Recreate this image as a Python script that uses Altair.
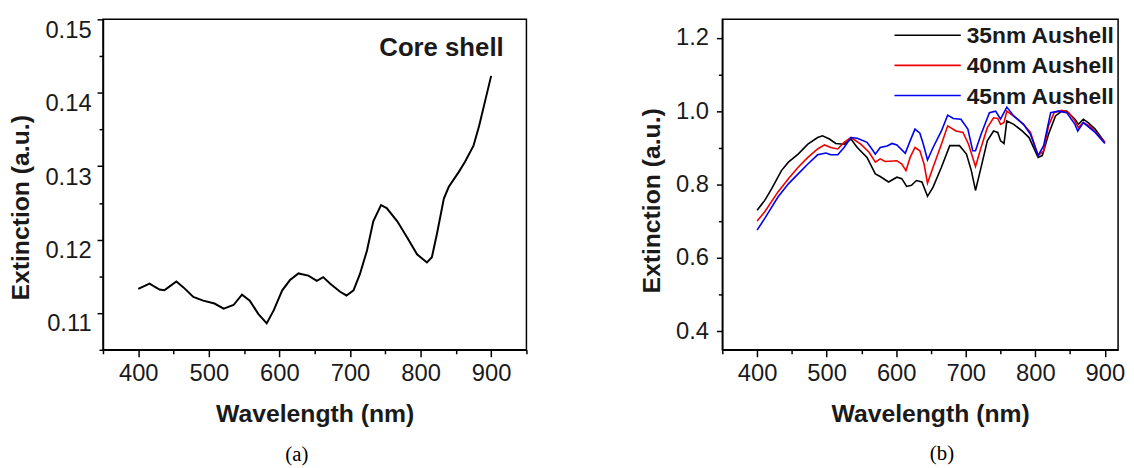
import altair as alt
import pandas as pd

# ---------------- Panel (a): core shell ----------------
core_nm = [400, 416, 430, 437, 444, 454, 464, 478, 492, 508,
           521, 535, 547, 558, 570, 582, 592, 604, 615, 627,
           641, 653, 662, 672, 686, 695, 705, 714, 724, 733,
           744, 752, 767, 781, 795, 809, 816, 823, 833, 840,
           854, 863, 875, 883, 892, 900]
core_ext = [0.1133, 0.1140, 0.1132, 0.1131, 0.1136, 0.1143, 0.1135, 0.1122, 0.1117, 0.1113,
            0.1106, 0.1111, 0.1125, 0.1117, 0.1099, 0.1086, 0.1104, 0.1131, 0.1145, 0.1154,
            0.1151, 0.1144, 0.1149, 0.1140, 0.1129, 0.1124, 0.1131, 0.1153, 0.1185, 0.1225,
            0.1247, 0.1243, 0.1225, 0.1203, 0.1180, 0.1169, 0.1176, 0.1207, 0.1256, 0.1272,
            0.1292, 0.1306, 0.1328, 0.1355, 0.1391, 0.1423]

# ---------------- Panel (b): Au shells ----------------
s35_nm = [400, 411, 421, 435, 445, 459, 473, 487, 494, 504,
          513, 525, 535, 544, 558, 570, 577, 589, 601, 608,
          615, 622, 629, 637, 645, 653, 665, 677, 691, 701,
          708, 714, 722, 731, 740, 746, 750, 755, 759, 769,
          781, 791, 804, 810, 819, 829, 838, 845, 857, 862,
          869, 876, 886, 900]
s35_ext = [0.730, 0.757, 0.789, 0.838, 0.861, 0.883, 0.910, 0.928, 0.933, 0.924,
           0.912, 0.910, 0.924, 0.901, 0.874, 0.829, 0.822, 0.807, 0.820, 0.816,
           0.795, 0.798, 0.811, 0.807, 0.768, 0.793, 0.847, 0.906, 0.906, 0.883,
           0.838, 0.784, 0.847, 0.919, 0.946, 0.942, 0.919, 0.912, 0.973, 0.964,
           0.946, 0.928, 0.874, 0.879, 0.937, 0.987, 1.000, 1.000, 0.978, 0.964,
           0.978, 0.969, 0.951, 0.915]

s40_nm = [400, 411, 430, 445, 459, 473, 487, 497, 506, 516,
          525, 535, 549, 561, 570, 577, 584, 601, 608, 614,
          620, 627, 634, 640, 645, 653, 665, 674, 686, 696,
          704, 714, 722, 731, 740, 746, 750, 755, 759, 772,
          783, 793, 804, 812, 819, 827, 838, 848, 857, 862,
          869, 878, 900]
s40_ext = [0.701, 0.726, 0.780, 0.816, 0.847, 0.874, 0.897, 0.908, 0.901, 0.897,
           0.915, 0.928, 0.910, 0.888, 0.861, 0.870, 0.863, 0.865, 0.856, 0.838,
           0.874, 0.901, 0.892, 0.856, 0.804, 0.847, 0.910, 0.960, 0.946, 0.942,
           0.910, 0.849, 0.901, 0.955, 0.982, 0.980, 0.964, 0.969, 1.000, 0.982,
           0.964, 0.942, 0.879, 0.892, 0.960, 0.996, 1.002, 0.996, 0.973, 0.955,
           0.969, 0.960, 0.915]

s45_nm = [400, 411, 430, 445, 459, 473, 487, 499, 506, 516,
          525, 535, 544, 558, 565, 570, 577, 587, 594, 601,
          613, 620, 627, 634, 639, 645, 653, 665, 674, 682,
          693, 703, 710, 714, 722, 734, 743, 750, 759, 769,
          783, 793, 804, 812, 822, 833, 845, 857, 861, 869,
          886, 900]
s45_ext = [0.676, 0.708, 0.766, 0.802, 0.829, 0.856, 0.881, 0.886, 0.881, 0.881,
           0.901, 0.928, 0.926, 0.915, 0.897, 0.883, 0.901, 0.905, 0.912, 0.908,
           0.885, 0.919, 0.951, 0.940, 0.910, 0.867, 0.901, 0.946, 0.989, 0.980,
           0.978, 0.951, 0.892, 0.892, 0.937, 0.996, 1.000, 0.978, 1.011, 0.987,
           0.964, 0.937, 0.879, 0.906, 0.996, 1.000, 0.996, 0.964, 0.946, 0.969,
           0.942, 0.912]

series_names = ["35nm Aushell", "40nm Aushell", "45nm Aushell"]
series_colors = ["#000000", "#ee0000", "#0000ee"]
series_nm = [s35_nm, s40_nm, s45_nm]
series_ext = [s35_ext, s40_ext, s45_ext]

# tick values (major + minor)
xa_ticks = [350, 400, 450, 500, 550, 600, 650, 700, 750, 800, 850, 900, 950]
ya_ticks = [0.105, 0.11, 0.115, 0.12, 0.125, 0.13, 0.135, 0.14, 0.145, 0.15]
xb_ticks = [350, 400, 450, 500, 550, 600, 650, 700, 750, 800, 850, 900]
yb_ticks = [0.4, 0.5, 0.6, 0.7, 0.8, 0.9, 1.0, 1.1, 1.2]

FONT = "Liberation Sans"
TXT = "#1a1a1a"

x_major = "datum.value % 100 == 0"
ya_major = "abs(datum.value*100 - round(datum.value*100)) < 0.001"
yb_major = "abs(datum.value*5 - round(datum.value*5)) < 0.001"


def tsize(test, big, small):
    return {"condition": {"test": test, "value": big}, "value": small}


# ---------------- panel (a) ----------------
df_a = pd.DataFrame({"nm": core_nm, "ext": core_ext})

xa = alt.X("nm:Q", scale=alt.Scale(domain=[350, 950], nice=False, zero=False),
           axis=alt.Axis(values=xa_ticks, format="d",
                         labelExpr=f"{x_major} ? datum.label : ''",
                         tickSize=tsize(x_major, 7, 4), labelPadding=5,
                         title="Wavelength (nm)", titleX=214, titleY=72,
                         titleAlign="center", titleBaseline="alphabetic"))
ya = alt.Y("ext:Q", scale=alt.Scale(domain=[0.105, 0.15], nice=False, zero=False),
           axis=alt.Axis(values=ya_ticks, format=".2f",
                         labelExpr=f"{ya_major} ? datum.label : ''",
                         tickSize=tsize(ya_major, 6, 4), labelPadding=6,
                         labelBaseline="top", labelOffset=-1,
                         title="Extinction (a.u.)", titleX=-83, titleY=190,
                         titleAlign="center", titleBaseline="middle"))

line_a = alt.Chart(df_a).mark_line(color="black", strokeWidth=2).encode(x=xa, y=ya)

label_a = alt.Chart(pd.DataFrame({"t": ["Core shell"]})).mark_text(
    font=FONT, fontSize=26, fontWeight="bold", color=TXT, align="right",
    baseline="alphabetic").encode(x=alt.value(405), y=alt.value(37), text="t:N")

cap_a = alt.Chart(pd.DataFrame({"t": ["(a)"]})).mark_text(
    font="Liberation Serif", fontSize=21, color="black", align="center",
    baseline="alphabetic").encode(x=alt.value(196), y=alt.value(446), text="t:N")

left = alt.layer(line_a, label_a, cap_a).properties(width=428, height=334)

# ---------------- panel (b) ----------------
xb = alt.X("nm:Q", scale=alt.Scale(domain=[350, 919], nice=False, zero=False),
           axis=alt.Axis(values=xb_ticks, format="d",
                         labelExpr=f"{x_major} ? datum.label : ''",
                         tickSize=tsize(x_major, 7, 4), labelPadding=5,
                         title="Wavelength (nm)", titleX=210, titleY=72,
                         titleAlign="center", titleBaseline="alphabetic"))
yb = alt.Y("ext:Q", scale=alt.Scale(domain=[0.35, 1.25], nice=False, zero=False),
           axis=alt.Axis(values=yb_ticks, format=".1f",
                         labelExpr=f"{yb_major} ? datum.label : ''",
                         tickSize=tsize(yb_major, 6, 4), labelPadding=8,
                         labelBaseline="middle",
                         title="Extinction (a.u.)", titleX=-71, titleY=183,
                         titleAlign="center", titleBaseline="middle"))

layers_b = []
for i, (name, col, nms, exts) in enumerate(zip(series_names, series_colors, series_nm, series_ext)):
    d = pd.DataFrame({"nm": nms, "ext": exts, "series": name})
    layers_b.append(alt.Chart(d).mark_line(color=col, strokeWidth=1.6).encode(x=xb, y=yb))

for i, (name, col) in enumerate(zip(series_names, series_colors)):
    ly = 16 + 30.5 * i
    d = pd.DataFrame({"t": [name]})
    layers_b.append(alt.Chart(d).mark_rule(color=col, strokeWidth=1.6).encode(
        x=alt.value(174), x2=alt.value(241), y=alt.value(ly)))
    layers_b.append(alt.Chart(d).mark_text(
        font=FONT, fontSize=23, fontWeight="bold", color=TXT, align="left",
        baseline="alphabetic").encode(x=alt.value(247), y=alt.value(ly + 8.2), text="t:N"))

cap_b = alt.Chart(pd.DataFrame({"t": ["(b)"]})).mark_text(
    font="Liberation Serif", fontSize=21, color="black", align="center",
    baseline="alphabetic").encode(x=alt.value(222), y=alt.value(445), text="t:N")
layers_b.append(cap_b)

right = alt.layer(*layers_b).properties(width=400, height=334)

chart = alt.hconcat(left, right, spacing=198, bounds="flush").properties(
    padding={"left": 0, "top": 7, "right": 0, "bottom": 0}
).configure_view(stroke="black", strokeWidth=1.5).configure_axis(
    domainColor="black", domainWidth=1.5, tickColor="black", tickWidth=1.5,
    labelFont=FONT, labelFontSize=24, labelColor=TXT,
    titleFont=FONT, titleFontSize=25, titleFontWeight="bold", titleColor=TXT,
    grid=False, labelFlush=False, labelOverlap=False
)

chart.save("out.html", embed_options={"renderer": "svg", "actions": False})
